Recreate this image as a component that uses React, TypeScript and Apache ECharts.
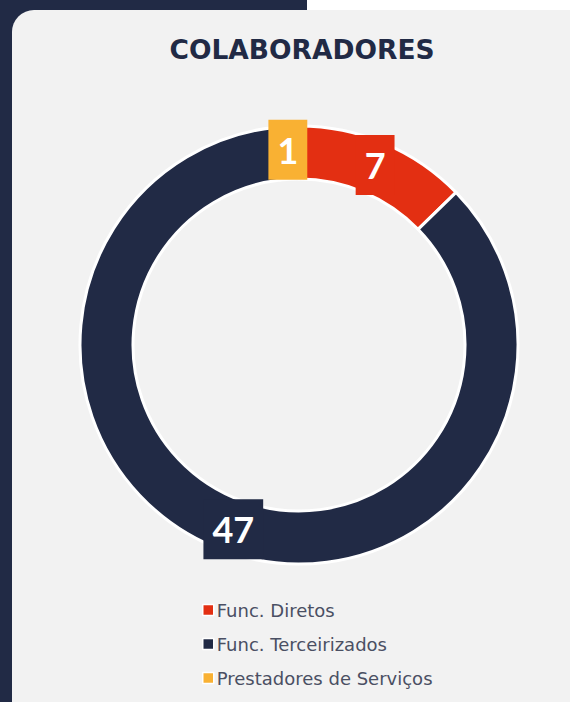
import React, { useEffect, useRef } from "react";
import * as echarts from "echarts";

const TITLE = "COLABORADORES";
const categories = ["Func. Diretos", "Func. Terceirizados", "Prestadores de Serviços"];
const values = [7, 47, 1];
const colors = ["#e32f12", "#212a45", "#f9b133"];

export default function App() {
  const ref = useRef<HTMLDivElement>(null);
  useEffect(() => {
    if (!ref.current) return;
    const chart = echarts.init(ref.current, null, { renderer: "svg" });
    chart.setOption({
      animation: false,
      backgroundColor: "#ffffff",
      graphic: [
        { type: "rect", z: -10, shape: { x: 0, y: 0, width: 307, height: 702 }, style: { fill: "#212a45" } },
        { type: "rect", z: -10, shape: { x: 0, y: 0, width: 12, height: 702 }, style: { fill: "#212a45" } },
        { type: "rect", z: -9, shape: { x: 12, y: 10, width: 600, height: 720, r: 22 }, style: { fill: "#f2f2f2" } },
      ],
      title: {
        text: TITLE,
        left: 297,
        textAlign: "center",
        top: 31,
        textStyle: { color: "#212a45", fontSize: 26.5, fontWeight: "bold", fontFamily: "DejaVu Sans" },
      },
      legend: {
        orient: "vertical",
        left: 197,
        top: 596,
        itemWidth: 11,
        itemHeight: 11,
        itemGap: 16,
        icon: "rect",
        data: categories,
        itemStyle: { borderColor: "#ffffff", borderWidth: 1.5 },
        textStyle: { color: "#4a4f63", fontSize: 18, fontFamily: "DejaVu Sans", padding: [0, 0, 0, -2] },
      },
      series: [
        {
          type: "pie",
          center: [299, 345],
          radius: [166, 219],
          startAngle: 90,
          clockwise: true,
          avoidLabelOverlap: false,
          itemStyle: { borderColor: "#ffffff", borderWidth: 3 },
          label: {
            show: true,
            position: "inside",
            formatter: "{c}",
            color: "#ffffff",
            fontSize: 36,
            fontWeight: "bold",
            fontFamily: "Lato",
            padding: [12, 9],
            backgroundColor: "inherit",
          },
          labelLine: { show: false },
          emphasis: { disabled: true },
          data: categories.map((name, i) => ({
            name,
            value: values[i],
            itemStyle: { color: colors[i] },
            label: { backgroundColor: colors[i] },
          })),
        },
      ],
    });
    return () => chart.dispose();
  }, []);
  return <div ref={ref} style={{ position: "fixed", left: 0, top: 0, width: 570, height: 702 }} />;
}
